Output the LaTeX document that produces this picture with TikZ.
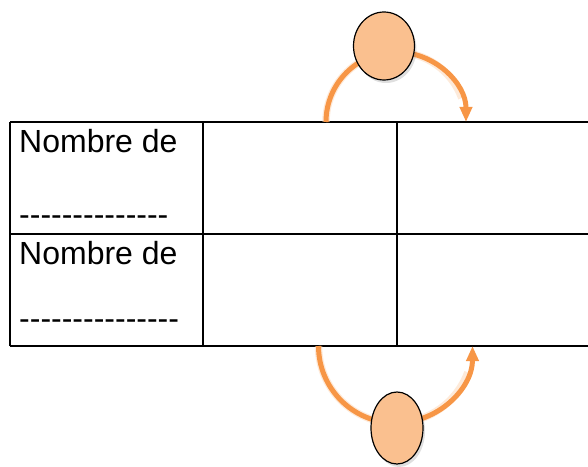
\documentclass[tikz,border=0pt]{standalone}
\usepackage{fontspec}
\setmainfont{Liberation Sans}[Ligatures=TeXOff]
\usetikzlibrary{arrows.meta,shapes.geometric,shadows}
\definecolor{looporange}{HTML}{F79646}
\definecolor{headpeach}{HTML}{FAC08F}

\begin{document}
\begin{tikzpicture}[x=1pt,y=1pt,
    cell/.style={anchor=base west, inner sep=0pt, font=\fontsize{32}{36}\selectfont},
    head/.style={ellipse, draw, line width=1.2pt, fill=headpeach, inner sep=0pt,
        drop shadow={shadow xshift=2pt, shadow yshift=-3pt, opacity=0.25}},
    glow/.style={looporange!40, line width=7.5pt, opacity=0.5},
    loop/.style={looporange, line width=5pt, -{Triangle[length=15pt,width=12pt]}}]
        \useasboundingbox (0,0) rectangle (588,466);

        % table
        \draw[line width=1.2pt] (10,344) -- (588,344);
        \draw[line width=1.2pt] (10,232) -- (588,232);
        \draw[line width=1.2pt] (10,120) -- (588,120);
        \foreach \x in {10,203,397}
            \draw[line width=1.2pt] (\x,120) -- (\x,344);

        \node[cell] (name1) at (19,313) {Nombre de};
        \node[cell] (blank1) at (19,240.5) {--------------};
        \node[cell] (name2) at (19,201) {Nombre de};
        \node[cell] (blank2) at (19,136.5) {---------------};

        % loops
        \coordinate (upstart) at (326,344);
        \coordinate (downstart) at (318.5,120);
        \draw[glow] (upstart) arc[start angle=180, end angle=20, radius=70];
        \draw[glow] (downstart) arc[start angle=180, end angle=340, radius=77];
        \draw[loop] (upstart) arc[start angle=180, end angle=0, radius=70];
        \draw[loop] (downstart) arc[start angle=180, end angle=360, radius=77];

        \node[head, minimum width=61pt, minimum height=68pt] (uphead) at (384,420) {};
        \node[head, minimum width=52pt, minimum height=72pt] (downhead) at (397,38) {};
    \end{tikzpicture}
\end{document}
